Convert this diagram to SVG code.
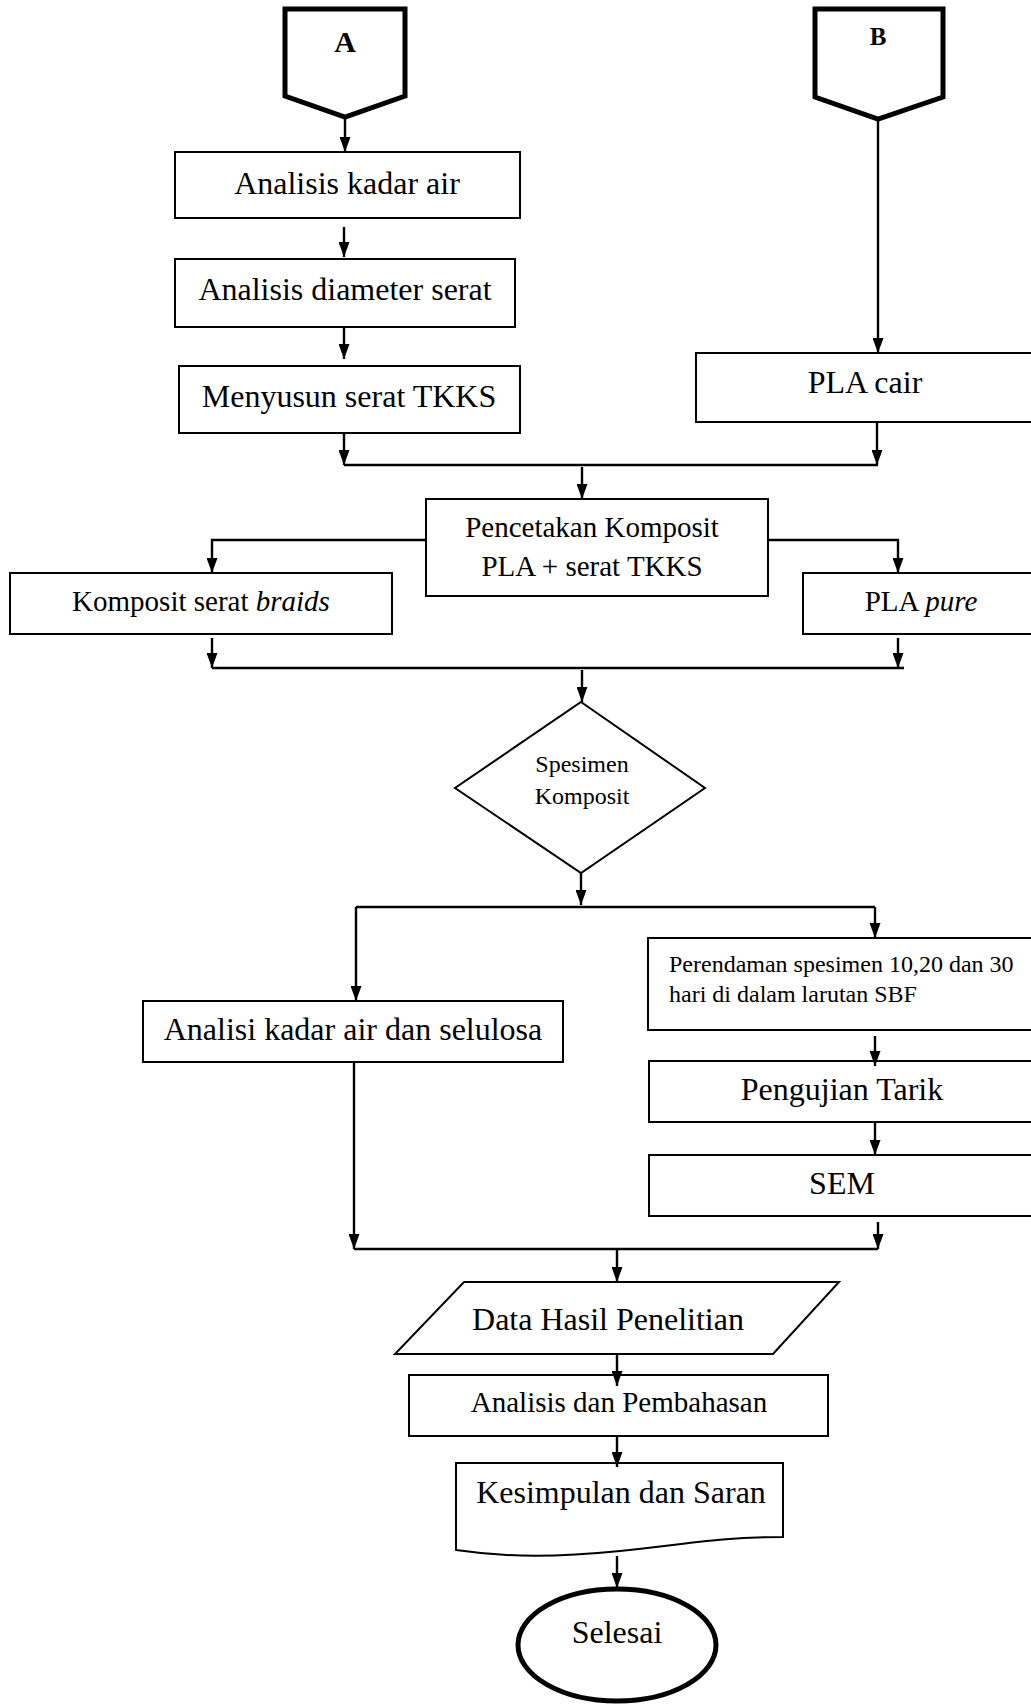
<svg xmlns="http://www.w3.org/2000/svg" width="1031" height="1704" viewBox="0 0 1031 1704">
<defs>
<marker id="ah" viewBox="0 0 15 11" refX="15" refY="5.5" markerWidth="15" markerHeight="11" markerUnits="userSpaceOnUse" orient="auto">
<path d="M0,0 L15,5.5 L0,11 z" fill="#000"/>
</marker>
<style>
.box{fill:#fff;stroke:#000;stroke-width:2}
.thick{fill:#fff;stroke:#000;stroke-width:5}
.c{fill:none;stroke:#000;stroke-width:2.4}
.a{fill:none;stroke:#000;stroke-width:2.4;marker-end:url(#ah)}
text{font-family:"Liberation Serif","Times New Roman",serif;fill:#000}
.t32{font-size:32px;text-anchor:middle}
.t29{font-size:29px;text-anchor:middle}
.t24{font-size:24px}
</style>
</defs>
<rect width="1031" height="1704" fill="#fff"/>

<g id="nodeA">
<path class="thick" d="M285,9 H405 V96 L345,117 L285,96 Z"/>
<text x="345" y="52" font-size="30" font-weight="bold" text-anchor="middle">A</text>
</g>
<g id="nodeB">
<path class="thick" d="M815,9 H943 V97 L878,119 L815,97 Z"/>
<text x="878" y="45" font-size="25" font-weight="bold" text-anchor="middle">B</text>
</g>

<g id="kadarAir">
<rect class="box" x="175" y="152" width="345" height="66"/>
<text class="t32" x="347" y="194">Analisis kadar air</text>
</g>
<g id="diameter">
<rect class="box" x="175" y="259" width="340" height="68"/>
<text class="t32" x="345" y="300">Analisis diameter serat</text>
</g>
<g id="menyusun">
<rect class="box" x="179" y="366" width="341" height="67"/>
<text class="t32" x="349" y="407">Menyusun serat TKKS</text>
</g>
<g id="plaCair">
<rect class="box" x="696" y="353" width="345" height="69"/>
<text class="t32" x="865" y="393">PLA cair</text>
</g>
<g id="pencetakan">
<rect class="box" x="426" y="499" width="342" height="97"/>
<text class="t29" x="592" y="537">Pencetakan Komposit</text>
<text class="t29" x="592" y="576">PLA + serat TKKS</text>
</g>
<g id="braids">
<rect class="box" x="10" y="573" width="382" height="61"/>
<text class="t29" x="201" y="611">Komposit serat <tspan font-style="italic">braids</tspan></text>
</g>
<g id="plaPure">
<rect class="box" x="803" y="573" width="240" height="61"/>
<text class="t29" x="921" y="611">PLA <tspan font-style="italic">pure</tspan></text>
</g>
<g id="spesimen">
<path class="box" d="M581,702 L705,788 L581,873 L455,788 Z"/>
<text class="t24" x="582" y="772" text-anchor="middle">Spesimen</text>
<text class="t24" x="582" y="804" text-anchor="middle">Komposit</text>
</g>
<g id="kadarSelulosa">
<rect class="box" x="143" y="1001" width="420" height="61"/>
<text class="t32" x="353" y="1040">Analisi kadar air dan selulosa</text>
</g>
<g id="perendaman">
<rect class="box" x="648" y="938" width="393" height="92"/>
<text class="t24" x="669" y="972">Perendaman spesimen 10,20 dan 30</text>
<text class="t24" x="669" y="1002">hari di dalam larutan SBF</text>
</g>
<g id="tarik">
<rect class="box" x="649" y="1061" width="392" height="61"/>
<text class="t32" x="842" y="1100">Pengujian Tarik</text>
</g>
<g id="sem">
<rect class="box" x="649" y="1155" width="392" height="61"/>
<text class="t32" x="842" y="1194">SEM</text>
</g>
<g id="data">
<path class="box" d="M464,1282 H839 L773,1354 H395 Z"/>
<text class="t32" x="608" y="1330">Data Hasil Penelitian</text>
</g>
<g id="analisisPembahasan">
<rect class="box" x="409" y="1375" width="419" height="61"/>
<text class="t29" x="619" y="1412">Analisis dan Pembahasan</text>
</g>
<g id="kesimpulan">
<path class="box" d="M456,1463 H783 V1537 C720,1537 680,1545 620,1551 C560,1557 510,1558 456,1550 Z"/>
<text class="t32" x="621" y="1503">Kesimpulan dan Saran</text>
</g>
<g id="selesai">
<ellipse cx="617" cy="1645" rx="99" ry="56" fill="#fff" stroke="#000" stroke-width="5"/>
<text class="t32" x="617" y="1643">Selesai</text>
</g>

<g id="connectors">
<path class="a" d="M345,119 V152"/>
<path class="a" d="M344,227 V257"/>
<path class="a" d="M344,327 V359"/>
<path class="a" d="M344,433 V465"/>
<path class="c" d="M344,465 H878"/>
<path class="a" d="M878,121 V353"/>
<path class="a" d="M877,423 V465"/>
<path class="a" d="M582,467 V499"/>
<path class="a" d="M426,540 H212 V573"/>
<path class="a" d="M768,540 H898 V573"/>
<path class="a" d="M212,638 V668"/>
<path class="a" d="M898,638 V668"/>
<path class="c" d="M212,668 H904"/>
<path class="a" d="M582,670 V702"/>
<path class="a" d="M581,873 V905"/>
<path class="c" d="M356,907 H875"/>
<path class="a" d="M356,907 V1001"/>
<path class="a" d="M875,907 V938"/>
<path class="a" d="M875,1036 V1066"/>
<path class="a" d="M875,1122 V1155"/>
<path class="a" d="M354,1062 V1249"/>
<path class="a" d="M878,1222 V1249"/>
<path class="c" d="M354,1249 H878"/>
<path class="a" d="M617,1249 V1282"/>
<path class="a" d="M617,1354 V1386"/>
<path class="a" d="M617,1436 V1467"/>
<path class="a" d="M617,1556 V1588"/>
</g>
</svg>
